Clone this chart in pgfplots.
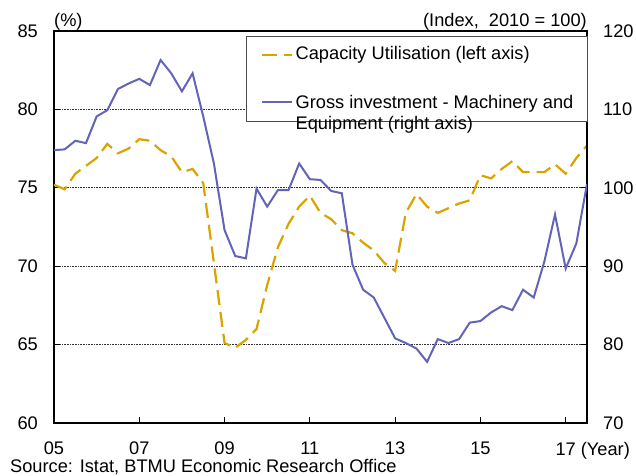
\documentclass[border=0pt]{standalone}
\usepackage{fontspec}
\setmainfont{Liberation Sans}
\usepackage{pgfplots}
\pgfplotsset{compat=1.18}
\definecolor{cuorange}{RGB}{217,163,0}
\definecolor{gblue}{RGB}{99,99,184}
\newcommand\cf{\fontsize{18.3}{21.3}\selectfont}
\pgfplotstableread{
i v
0 75.2
1 74.9
2 75.9
3 76.4
4 76.9
5 77.8
6 77.2
7 77.5
8 78.1
9 78.0
10 77.4
11 77.0
12 76.0
13 76.2
14 75.3
15 70.2
16 65.1
17 64.8
18 65.3
19 66.0
20 68.8
21 71.2
22 72.7
23 73.8
24 74.5
25 73.4
26 73.0
27 72.3
28 72.1
29 71.5
30 71.0
31 70.2
32 69.7
33 73.4
34 74.6
35 73.8
36 73.4
37 73.7
38 74.0
39 74.2
40 75.8
41 75.6
42 76.2
43 76.7
44 76.0
45 76.0
46 76.0
47 76.5
48 75.9
49 76.9
50 77.7
}\capu
\pgfplotstableread{
i v
0 104.8
1 104.9
2 106.0
3 105.7
4 109.1
5 109.9
6 112.6
7 113.3
8 113.9
9 113.1
10 116.3
11 114.6
12 112.3
13 114.6
14 109.1
15 103.1
16 94.6
17 91.3
18 91.0
19 99.9
20 97.6
21 99.7
22 99.7
23 103.1
24 101.1
25 101.0
26 99.6
27 99.3
28 90.2
29 87.0
30 86.0
31 83.4
32 80.8
33 80.2
34 79.5
35 77.8
36 80.7
37 80.2
38 80.7
39 82.8
40 83.0
41 84.1
42 84.9
43 84.4
44 87.0
45 86.0
46 90.6
47 96.6
48 89.7
49 92.9
50 100.5
}\ginv
\begin{document}
\cf
\begin{tikzpicture}[font=\cf]
\path[use as bounding box] (0,0) rectangle (636bp,476bp);
\begin{axis}[
  at={(54bp,53bp)}, anchor=south west,
  scale only axis, width=533bp, height=392bp,
  xmin=0, xmax=50, ymin=60, ymax=85,
  xtick={0,8,...,48},
  xticklabels={05,07,09,11,13,15,{17\rlap{ (Year)}}},
  ytick={60,65,...,85},
  xtick pos=bottom, ytick pos=left, tick align=inside,
  major tick length=6bp,
  axis line style={line width=1.2bp, black},
  tick style={line width=1bp, black},
  ymajorgrids,
  grid style={black!80, line width=0.8bp, dash pattern=on 0.8bp off 0.8bp},
  tick label style={inner sep=0pt, font=\cf},
  xticklabel shift=19bp, yticklabel shift=16bp,
  /pgf/number format/assume math mode=true,
]
\addplot[cuorange, line width=2.2bp, dash pattern=on 15bp off 7bp] table[x=i,y=v] {\capu};
\end{axis}
\begin{axis}[
  at={(54bp,53bp)}, anchor=south west,
  scale only axis, width=533bp, height=392bp,
  xmin=0, xmax=50, ymin=70, ymax=120,
  ytick={70,80,...,120},
  axis y line*=right, axis x line=none,
  tick align=inside,
  major tick length=6bp,
  axis line style={line width=1.2bp, black},
  tick style={line width=1bp, black},
  tick label style={inner sep=0pt, font=\cf},
  yticklabel shift=16bp,
  /pgf/number format/assume math mode=true,
  legend style={at={(0.360,0.987)}, anchor=north west, draw=black!70, line width=1.2bp,
    inner xsep=14bp, inner ysep=10bp, row sep=31bp, column sep=3bp,
    nodes={inner sep=0pt}, font=\cf},
  legend cell align=left,
  legend image code/.code={\draw[#1] (0bp,0bp) -- (30bp,0bp);},
]
\addlegendimage{cuorange, line width=2.2bp, dash pattern=on 15bp off 7bp}
\addlegendentry{Capacity Utilisation (left axis)}
\addplot[gblue, line width=2bp] table[x=i,y=v] {\ginv};
\addlegendentry{\begin{tabular}[t]{@{}l@{}}Gross investment - Machinery and\\Equipment (right axis)\end{tabular}}
\end{axis}
\node[anchor=base west, inner sep=0pt] at (54bp,449bp) {(\%)};
\node[anchor=base east, inner sep=0pt] at (587bp,449bp) {(Index,\ \ 2010 = 100)};
\node[anchor=base west, inner sep=0pt] at (10bp,3.6bp) {Source: Istat, BTMU Economic Research Office};
\end{tikzpicture}
\end{document}
